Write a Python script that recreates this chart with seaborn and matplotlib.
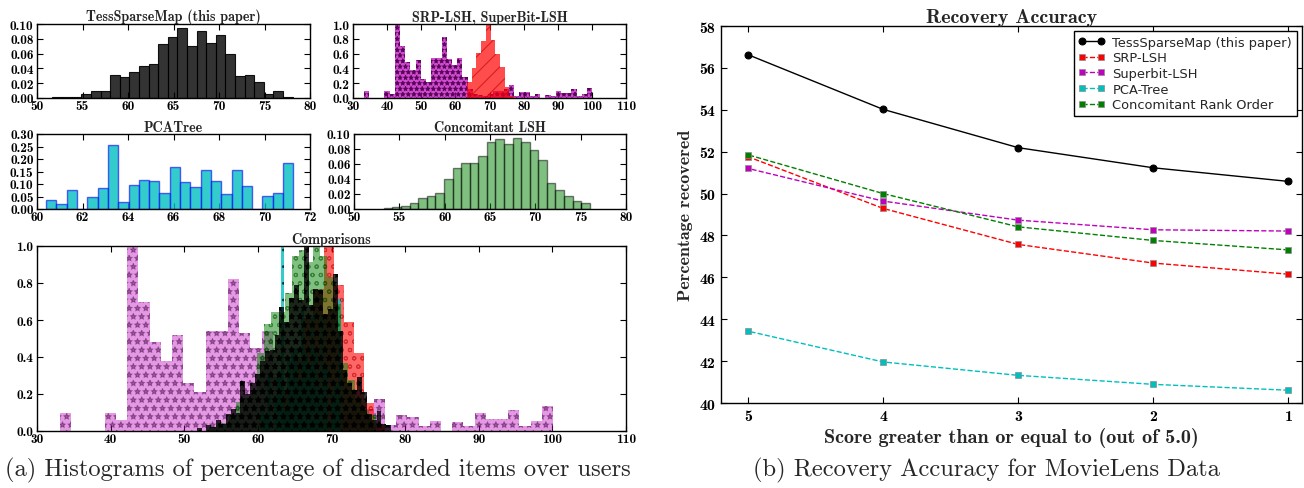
import numpy as np
import matplotlib
matplotlib.use("Agg")
import matplotlib.pyplot as plt
import seaborn as sns

# ---------------- data ----------------
# TessSparseMap (this paper): density histogram
tess_range = (51.7, 78.1)
tess_density = [0.001, 0.002, 0.001, 0.005, 0.010, 0.010, 0.031, 0.029, 0.035,
                0.043, 0.046, 0.073, 0.083, 0.095, 0.070, 0.091, 0.075, 0.085,
                0.060, 0.030, 0.031, 0.022, 0.005, 0.009, 0.002]

# SuperBit-LSH (normalised to max = 1)
superbit_range = (33.1, 100.1)
superbit_norm = [0.10, 0.0, 0.0, 0.0, 0.10, 0.057, 1.0, 0.70, 0.48, 0.38, 0.52,
                 0.26, 0.21, 0.54, 0.54, 0.82, 0.53, 0.45, 0.54, 0.29, 0.12,
                 0.05, 0.04, 0.03, 0.05, 0.10, 0.10, 0.12, 0.175, 0.03, 0.085,
                 0.076, 0.027, 0.056, 0.0, 0.047, 0.027, 0.095, 0.067, 0.067,
                 0.115, 0.027, 0.056, 0.135]

# SRP-LSH (normalised to max = 1)
srp_range = (63.4, 77.2)
srp_norm = [0.22, 0.40, 0.61, 0.77, 1.0, 0.79, 0.59, 0.42, 0.15, 0.03]

# PCATree: density histogram
pca_range = (60.4, 71.27)
pca_density = [0.035, 0.020, 0.075, 0.0, 0.050, 0.083, 0.255, 0.030, 0.097,
               0.115, 0.113, 0.065, 0.168, 0.108, 0.088, 0.158, 0.112, 0.060,
               0.157, 0.092, 0.0, 0.052, 0.063, 0.182]

# Concomitant LSH: density histogram
conc_range = (53.3, 76.0)
conc_density = [0.002, 0.003, 0.004, 0.008, 0.015, 0.017, 0.021, 0.040, 0.055,
                0.061, 0.061, 0.071, 0.090, 0.093, 0.087, 0.095, 0.090, 0.079,
                0.065, 0.035, 0.026, 0.017, 0.011, 0.008]

# TessSparseMap, finer bins, normalised (Comparisons panel)
tess_comp_range = (51.7, 78.1)
tess_comp_norm = [0.015, 0.0, 0.03, 0.02, 0.06, 0.04, 0.09, 0.12, 0.10, 0.27,
                  0.20, 0.26, 0.31, 0.38, 0.43, 0.44, 0.52, 0.67, 0.59, 0.72,
                  0.79, 0.71, 1.0, 0.68, 0.77, 0.76, 0.63, 0.66, 0.85, 0.54,
                  0.33, 0.26, 0.22, 0.29, 0.21, 0.09, 0.06, 0.11, 0.04, 0.03]

# Recovery accuracy (MovieLens)
score_thresholds = [5, 4, 3, 2, 1]
acc_tess = [56.63, 54.02, 52.19, 51.23, 50.58]
acc_srp = [51.76, 49.29, 47.57, 46.68, 46.15]
acc_superbit = [51.20, 49.64, 48.73, 48.27, 48.21]
acc_pca = [43.43, 41.96, 41.32, 40.89, 40.61]
acc_conc = [51.85, 50.00, 48.41, 47.76, 47.31]

# ---------------- style ----------------
sns.set_style("ticks")
plt.rcParams.update({
    "font.family": ["cmb10", "DejaVu Serif"],
    "axes.unicode_minus": False,
    "xtick.direction": "in", "ytick.direction": "in",
    "xtick.top": True, "ytick.right": True,
    "xtick.major.size": 4, "ytick.major.size": 4,
    "xtick.major.width": 0.8, "ytick.major.width": 0.8,
    "axes.edgecolor": "black", "axes.linewidth": 1.0,
    "xtick.color": "black", "ytick.color": "black",
    "hatch.linewidth": 0.8,
    "axes.grid": False,
})

W, H = 1304, 489
fig = plt.figure(figsize=(W / 100, H / 100), dpi=100)


def rect(l, t, r, b):
    return [l / W, 1 - b / H, (r - l) / W, (b - t) / H]


def hist_from(ax, rng, heights, **kw):
    edges = np.linspace(rng[0], rng[1], len(heights) + 1)
    centers = (edges[:-1] + edges[1:]) / 2
    sns.histplot(x=centers, weights=np.asarray(heights, dtype=float),
                 bins=[float(e) for e in edges], ax=ax, **kw)


def style(ax, xticks, yticks, yfmt, title, fs_tick=9.6, fs_title=10.2):
    ax.set_xlim(xticks[0], xticks[-1])
    ax.set_ylim(yticks[0], yticks[-1])
    ax.set_xticks(xticks)
    ax.set_yticks(yticks)
    ax.set_xticklabels([str(v) for v in xticks])
    ax.set_yticklabels([yfmt.format(v) for v in yticks])
    ax.set_xlabel("")
    ax.set_ylabel("")
    ax.set_title(title, fontsize=fs_title, pad=2)
    ax.tick_params(axis="x", labelsize=fs_tick, pad=1.5)
    ax.tick_params(axis="y", labelsize=fs_tick, pad=2.5)


# --- TessSparseMap ---
ax1 = fig.add_axes(rect(37, 25, 310, 99))
hist_from(ax1, tess_range, tess_density, facecolor=(0, 0, 0, 0.8),
          edgecolor=(0, 0, 0, 0.9), linewidth=0.8)
style(ax1, [50, 55, 60, 65, 70, 75, 80], [0, 0.02, 0.04, 0.06, 0.08, 0.10],
      "{:.2f}", "TessSparseMap (this paper)")

# --- SRP-LSH, SuperBit-LSH ---
ax2 = fig.add_axes(rect(353, 25, 626, 99))
hist_from(ax2, superbit_range, superbit_norm, facecolor=(0.75, 0, 0.75, 0.7),
          edgecolor=(0.3, 0, 0.3, 0.8), linewidth=0, hatch="***")
hist_from(ax2, srp_range, srp_norm, facecolor=(1, 0, 0, 0.7),
          edgecolor=(0.75, 0, 0, 0.6), linewidth=0, hatch="//")
style(ax2, [30, 40, 50, 60, 70, 80, 90, 100, 110], [0, 0.2, 0.4, 0.6, 0.8, 1.0],
      "{:.1f}", "SRP-LSH, SuperBit-LSH")

# --- PCATree ---
ax3 = fig.add_axes(rect(37, 135, 310, 210))
hist_from(ax3, pca_range, pca_density, facecolor=(0, 0.75, 0.75, 0.8),
          edgecolor=(0, 0, 1, 0.6), linewidth=1.0)
style(ax3, [60, 62, 64, 66, 68, 70, 72], [0, 0.05, 0.10, 0.15, 0.20, 0.25, 0.30],
      "{:.2f}", "PCATree")

# --- Concomitant LSH ---
ax4 = fig.add_axes(rect(354, 135, 626, 210))
hist_from(ax4, conc_range, conc_density, facecolor=(0, 0.5, 0, 0.5),
          edgecolor=(0, 0, 0, 0.5), linewidth=1.0)
style(ax4, [50, 55, 60, 65, 70, 75, 80], [0, 0.02, 0.04, 0.06, 0.08, 0.10],
      "{:.2f}", "Concomitant LSH")

# --- Comparisons ---
ax5 = fig.add_axes(rect(37, 247, 626, 432))
pca_max = max(pca_density)
conc_max = max(conc_density)
hist_from(ax5, superbit_range, superbit_norm, facecolor=(0.75, 0, 0.75, 0.4),
          edgecolor=(0.3, 0.05, 0.3, 0.45), linewidth=0, hatch="**")
hist_from(ax5, srp_range, srp_norm, facecolor=(1, 0, 0, 0.6),
          edgecolor=(0.7, 0, 0, 0.5), linewidth=0, hatch="oo")
hist_from(ax5, pca_range, [v / pca_max for v in pca_density],
          facecolor=(0, 0.75, 0.75, 0.8), edgecolor=(0, 0.15, 0.15, 0.8),
          linewidth=0, hatch="..")
hist_from(ax5, conc_range, [v / conc_max for v in conc_density],
          facecolor=(0, 0.5, 0, 0.5), edgecolor=(0, 0.3, 0, 0.5),
          linewidth=0, hatch="oo")
hist_from(ax5, tess_comp_range, tess_comp_norm, facecolor=(0, 0, 0, 0.8),
          edgecolor=(0, 0, 0, 0.9), linewidth=0, hatch="**")
style(ax5, [30, 40, 50, 60, 70, 80, 90, 100, 110], [0, 0.2, 0.4, 0.6, 0.8, 1.0],
      "{:.1f}", "Comparisons")

# --- Recovery accuracy ---
ax6 = fig.add_axes(rect(721, 27, 1302, 404))
sns.lineplot(x=score_thresholds, y=acc_tess, ax=ax6, color="k", marker="o",
             markersize=5, linewidth=1, markeredgecolor="k",
             label="TessSparseMap (this paper)")
series = [(acc_srp, "r", "SRP-LSH"), (acc_superbit, "m", "Superbit-LSH"),
          (acc_pca, "c", "PCA-Tree"), (acc_conc, "g", "Concomitant Rank Order")]
for vals, col, lab in series:
    sns.lineplot(x=score_thresholds, y=vals, ax=ax6, color=col, marker="s",
                 markersize=4.5, linewidth=1, linestyle="--",
                 markeredgecolor="0.55", markeredgewidth=0.5, label=lab)
ax6.set_xlim(5.2, 0.9)
ax6.set_ylim(40, 58)
ax6.set_xticks(score_thresholds)
ax6.set_xticklabels([str(v) for v in score_thresholds])
ax6.set_yticks(list(range(40, 59, 2)))
ax6.set_yticklabels([str(v) for v in range(40, 59, 2)])
ax6.tick_params(labelsize=11.5, pad=4)
ax6.set_title("Recovery Accuracy", fontsize=14.5, pad=3)
ax6.set_xlabel("Score greater than or equal to (out of 5.0)", fontsize=14.5, labelpad=3)
ax6.set_ylabel("Percentage recovered", fontsize=13, labelpad=5)
leg = ax6.legend(loc="upper right", prop={"family": "DejaVu Sans", "size": 9.4},
                 fancybox=False, edgecolor="black", framealpha=1, numpoints=2,
                 handlelength=2.0, borderaxespad=0.4, labelspacing=0.2,
                 handletextpad=0.6, borderpad=0.35)
leg.get_frame().set_linewidth(1.0)

# --- captions ---
fig.text(318 / W, 1 - 470 / H, "(a) Histograms of percentage of discarded items over users",
         ha="center", va="center", fontsize=17.6, fontfamily=["cmr10", "DejaVu Serif"])
fig.text(986 / W, 1 - 470 / H, "(b) Recovery Accuracy for MovieLens Data",
         ha="center", va="center", fontsize=17.6, fontfamily=["cmr10", "DejaVu Serif"])

fig.savefig("out.png", dpi=100)
